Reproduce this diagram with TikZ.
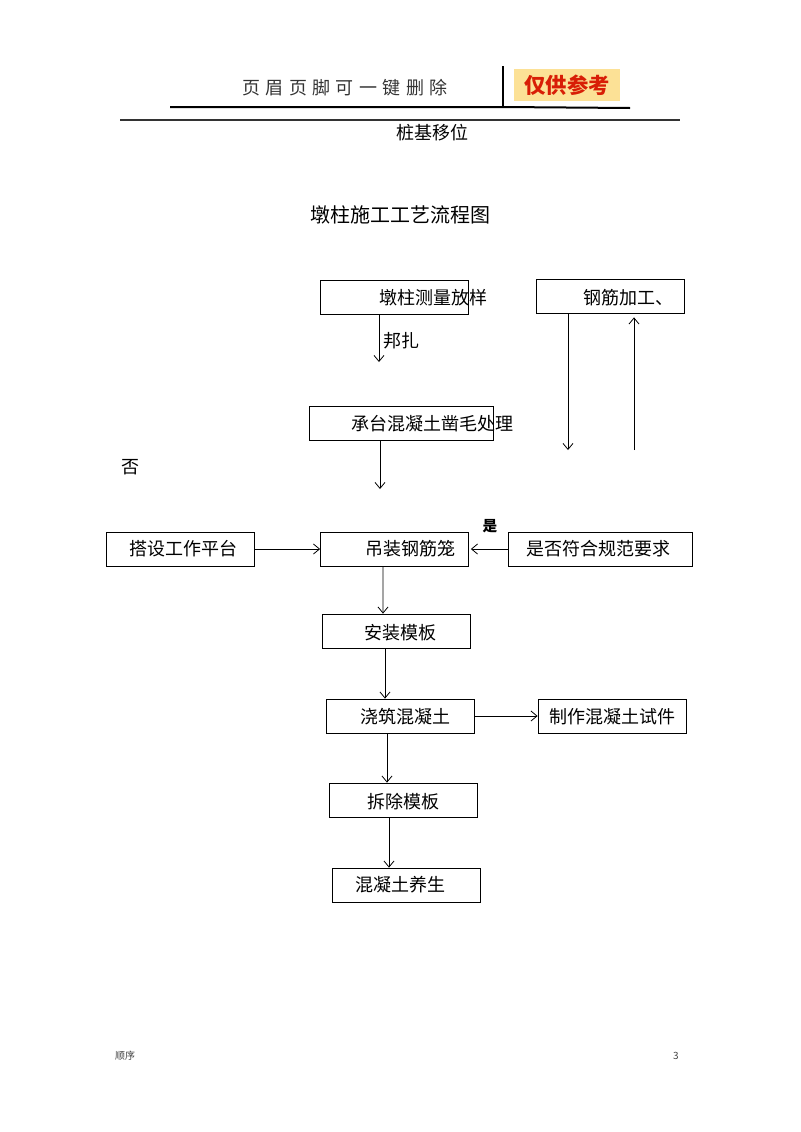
\documentclass[tikz,border=0pt]{standalone}
\usepackage{fontspec}
\usetikzlibrary{arrows.meta,positioning}
\newfontfamily\cjk{Noto Sans CJK SC}
\newfontfamily\cjkwide[LetterSpace=30]{Noto Sans CJK SC}
\definecolor{tagfill}{HTML}{FCE196}
\definecolor{tagred}{HTML}{D81E06}
\tikzset{
  box/.style={draw=black,rectangle,line width=0.6pt,minimum width=111pt,minimum height=25.5pt,inner sep=0pt},
  wide/.style={box,minimum width=138pt},
  txt/.style={inner sep=0pt,font=\cjk\fontsize{13.5pt}{16pt}\selectfont},
}
\begin{document}
\begin{tikzpicture}[x=0.75pt,y=-0.75pt,>={Straight Barb[length=4.5pt,width=7.5pt]},line width=0.6pt]
        \useasboundingbox (0,0) rectangle (800,1132);
        % header
        \node[inner sep=0pt,text=black!80,font=\cjkwide\fontsize{13.5pt}{16pt}\selectfont] (head) at (345,88) {页眉页脚可一键删除};
        \node[fill=tagfill,minimum width=79.5pt,minimum height=24pt,inner sep=0pt,text=tagred,font=\cjk\bfseries\fontsize{16pt}{18pt}\selectfont] (tag) at (567,85) {仅供参考};
        \coordinate (hl) at (170,107);
        \coordinate (hr) at (630,108);
        \coordinate (hm) at (503,107);
        \coordinate (hmt) at (503,66);
        \draw[line width=1.5pt] (hl) -- (hm) -- (hr);
        \draw[line width=1.5pt] (hm) -- (hmt);
        \coordinate (rl) at (120,120);
        \coordinate (rr) at (680,120);
        \draw[line width=0.8pt,black!80] (rl) -- (rr);
        \node[txt] (move) at (432,133) {桩基移位};
        \node[inner sep=0pt,font=\cjk\fontsize{15pt}{18pt}\selectfont] (title) at (400,215) {墩柱施工工艺流程图};

        % boxes
        \node[box] (survey) at (394,297) {};
        \node[txt] (survey-t) at (433,298) {墩柱测量放样};
        \node[box] (rebar) at (610,296) {};
        \node[txt] (rebar-t) at (628,298) {钢筋加工、};
        \node[wide] (cap) at (401,423) {};
        \node[txt] (cap-t) at (432,424) {承台混凝土凿毛处理};
        \node[box] (platform) at (180.5,549) {};
        \node[txt] (platform-t) at (183,549) {搭设工作平台};
        \node[box] (hoist) at (394.5,549) {};
        \node[txt] (hoist-t) at (410,549) {吊装钢筋笼};
        \node[wide] (check) at (600,549) {};
        \node[txt] (check-t) at (598,549) {是否符合规范要求};
        \node[box] (form) at (396,631) {};
        \node[txt] (form-t) at (400,633) {安装模板};
        \node[box] (pour) at (400,716) {};
        \node[txt] (pour-t) at (405,717) {浇筑混凝土};
        \node[box] (sample) at (612,716) {};
        \node[txt] (sample-t) at (612,717) {制作混凝土试件};
        \node[box] (strip) at (403,800) {};
        \node[txt] (strip-t) at (403,802) {拆除模板};
        \node[box] (cure) at (406,885) {};
        \node[txt] (cure-t) at (400,885) {混凝土养生};

        % loose labels
        \node[txt,anchor=west] (bind) at (383,341) {邦扎};
        \node[txt] (no) at (130,467) {否};
        \node[inner sep=0pt,font=\cjk\bfseries\fontsize{11pt}{13pt}\selectfont] (yes) at (490,526) {是};
        \node[inner sep=0pt,font=\cjk\fontsize{7.5pt}{9pt}\selectfont,text=black!75] (foot) at (125,1056) {顺序};
        \node[inner sep=0pt,font=\cjk\fontsize{7.5pt}{9pt}\selectfont,text=black!75] (page) at (676,1056) {3};

        % free ends
        \coordinate (survey-end) at (379,362);
        \coordinate (cap-end) at (380,489);
        \coordinate (down-end) at (568,450);
        \coordinate (up-start) at (634,450);

        \path [->] ([xshift=-11.25pt]survey.south) edge (survey-end);
        \path [->] ([xshift=-15.75pt]cap.south) edge (cap-end);
        \path [->] ([xshift=-31.5pt]rebar.south) edge (down-end);
        \path [->] (up-start) edge ([xshift=18pt,yshift=-3pt]rebar.south);
        \path [->] (platform.east) edge (hoist.west);
        \path [->] (check.west) edge ([xshift=1.5pt]hoist.east);
        \path [->] ([xshift=-8.6pt]hoist.south) edge ([xshift=-9.75pt]form.north);
        \path [->] ([xshift=-8.25pt]form.south) edge ([xshift=-11.25pt]pour.north);
        \path [->] (pour.east) edge (sample.west);
        \path [->] ([xshift=-9.75pt]pour.south) edge ([xshift=-12pt]strip.north);
        \path [->] ([xshift=-10.5pt]strip.south) edge ([xshift=-12.75pt]cure.north);

    \end{tikzpicture}
\end{document}
